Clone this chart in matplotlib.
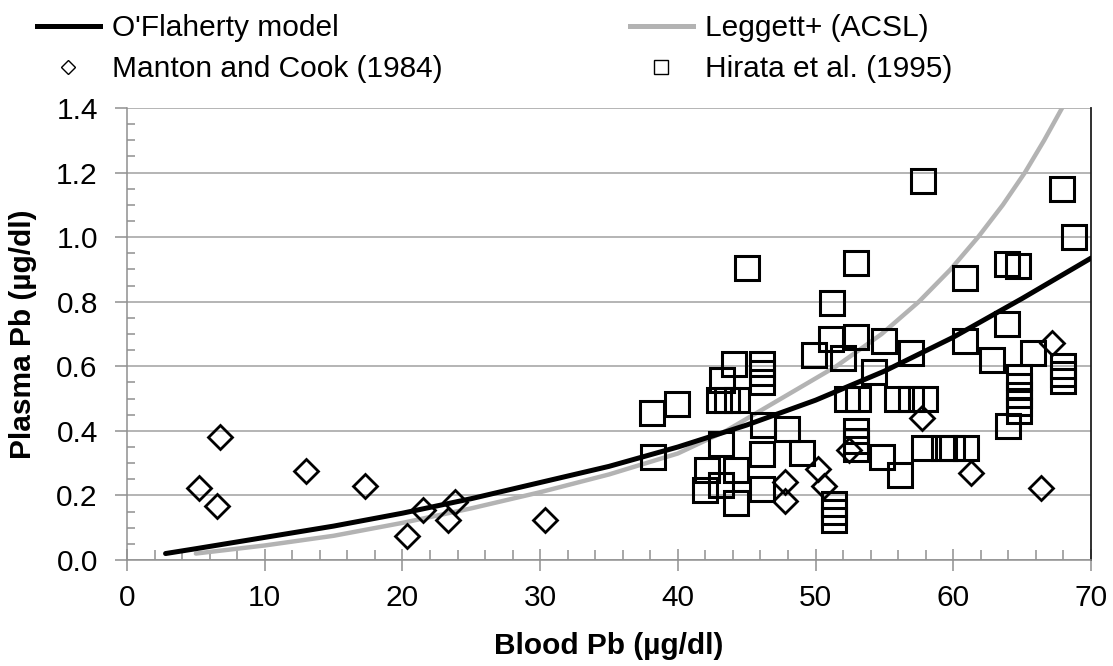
import numpy as np
import matplotlib
matplotlib.use("Agg")
import matplotlib.pyplot as plt
from matplotlib.lines import Line2D
from matplotlib.ticker import MultipleLocator, FormatStrFormatter

plt.rcParams['font.family'] = ['Liberation Sans', 'DejaVu Sans']

# O'Flaherty model curve
ofl_x = [2.8, 5, 10, 15, 20, 25, 30, 35, 40, 45, 50, 55, 60, 65, 70]
ofl_y = [0.02, 0.035, 0.07, 0.105, 0.145, 0.19, 0.24, 0.29, 0.35, 0.418, 0.495, 0.585, 0.69, 0.81, 0.935]

# Leggett+ (ACSL) curve
leg_x = [5, 10, 15, 20, 25, 30, 35, 40, 43.5, 47.5, 51.5, 54.8, 57.5, 59.8, 61.8, 63.6, 65.2, 66.6, 67.9]
leg_y = [0.02, 0.045, 0.075, 0.115, 0.16, 0.21, 0.265, 0.33, 0.4, 0.5, 0.6, 0.7, 0.8, 0.9, 1.0, 1.1, 1.2, 1.3, 1.4]

# Manton and Cook (1984)
mc_x = [5.2, 6.75, 6.5, 13.0, 17.3, 20.3, 21.5, 23.3, 23.8, 30.35,
        47.75, 47.75, 50.2, 50.6, 52.4, 57.7, 61.3, 66.4, 67.2]
mc_y = [0.222, 0.382, 0.167, 0.277, 0.229, 0.074, 0.155, 0.124, 0.18, 0.124,
        0.241, 0.182, 0.282, 0.229, 0.34, 0.44, 0.27, 0.222, 0.673]

# Hirata et al. (1995)
hi_x = [57.8, 67.9, 68.8, 45.0, 52.9, 60.85, 63.9, 64.7,
        51.2, 63.9, 60.85,
        51.1, 52.9, 55.0, 49.9, 52.0, 56.9, 54.25, 62.8, 65.8,
        68.0, 68.0, 68.0,
        64.75, 64.75, 64.75, 64.75, 64.75, 64.0,
        52.3, 53.1, 55.9, 56.9, 57.95,
        38.1, 39.95,
        44.1, 46.1, 43.2, 46.1, 46.1, 43.0, 43.6, 44.3,
        38.2, 43.1, 46.2, 47.9, 46.1, 42.1, 44.2, 42.0, 43.1, 44.2, 46.1,
        49.0, 54.85, 56.1, 57.9, 59.3, 59.9, 60.9,
        51.35, 51.35, 51.35, 52.9, 52.9, 52.9]
hi_y = [1.175, 1.15, 1.0, 0.905, 0.92, 0.872, 0.917, 0.91,
        0.795, 0.732, 0.677,
        0.683, 0.692, 0.678, 0.636, 0.627, 0.642, 0.583, 0.62, 0.64,
        0.602, 0.577, 0.555,
        0.567, 0.54, 0.51, 0.485, 0.462, 0.415,
        0.5, 0.5, 0.5, 0.5, 0.5,
        0.456, 0.482,
        0.607, 0.607, 0.557, 0.552, 0.58, 0.497, 0.497, 0.497,
        0.318, 0.359, 0.417, 0.405, 0.328, 0.279, 0.279, 0.217, 0.232, 0.176, 0.22,
        0.33, 0.32, 0.263, 0.346, 0.346, 0.346, 0.346,
        0.175, 0.148, 0.125, 0.40, 0.37, 0.345]

fig = plt.figure(figsize=(11.13, 6.66), dpi=100)
ax = fig.add_axes([127 / 1113, 1 - 560 / 666, (1091 - 127) / 1113, (560 - 108) / 666])

ax.set_xlim(0, 70)
ax.set_ylim(0, 1.4)
ax.yaxis.grid(True, color='#a0a0a0', lw=1.1)
ax.set_axisbelow(True)

ax.plot(leg_x, leg_y, color='#b3b3b3', lw=3.2, solid_capstyle='round', zorder=3)
ax.plot(ofl_x, ofl_y, color='black', lw=3.6, solid_capstyle='round', zorder=4)
ax.plot(mc_x, mc_y, ls='none', marker='D', ms=12.5, mfc='none', mec='black', mew=2.0, zorder=5)
ax.plot(hi_x, hi_y, ls='none', marker='s', ms=17, mfc='none', mec='black', mew=2.2, zorder=5)

ax.xaxis.set_major_locator(MultipleLocator(10))
ax.xaxis.set_minor_locator(MultipleLocator(2))
ax.yaxis.set_major_locator(MultipleLocator(0.2))
ax.yaxis.set_minor_locator(MultipleLocator(0.05))
ax.yaxis.set_major_formatter(FormatStrFormatter('%.1f'))

ax.tick_params(axis='x', which='major', direction='inout', length=16, width=1.1, color='#909090',
               labelsize=21.5, pad=9)
ax.tick_params(axis='x', which='minor', direction='in', length=7, width=1.1, color='#909090')
ax.tick_params(axis='y', which='major', direction='out', length=9, width=1.1, color='#909090',
               labelsize=21.5, pad=12)
ax.tick_params(axis='y', which='minor', direction='in', length=6, width=1.1, color='#909090')

ax.spines['top'].set_visible(False)
ax.spines['left'].set_color('#909090')
ax.spines['bottom'].set_color('#909090')
ax.spines['left'].set_linewidth(1.1)
ax.spines['bottom'].set_linewidth(1.1)
ax.spines['right'].set_color('#202020')
ax.spines['right'].set_linewidth(1.3)

ax.set_xlabel('Blood Pb (µg/dl)', fontsize=21.5, fontweight='bold', labelpad=15)
ax.set_ylabel('Plasma Pb (µg/dl)', fontsize=21.5, fontweight='bold', labelpad=14)

h_ofl = Line2D([], [], color='black', lw=3.6)
h_leg = Line2D([], [], color='#b3b3b3', lw=3.6)
h_mc = Line2D([], [], ls='none', marker='D', ms=7.5, mfc='none', mec='black', mew=1.0)
h_hi = Line2D([], [], ls='none', marker='s', ms=10.5, mfc='none', mec='black', mew=1.0)

lkw = dict(loc='upper left', frameon=False, fontsize=21.5, borderpad=0, borderaxespad=0,
           handlelength=2.1, handletextpad=0.4, labelspacing=0.45)
fig.legend([h_ofl, h_mc], ["O'Flaherty model", 'Manton and Cook (1984)'],
           bbox_to_anchor=(37 / 1113, 1 - 14 / 666), **lkw)
fig.legend([h_leg, h_hi], ['Leggett+ (ACSL)', 'Hirata et al. (1995)'],
           bbox_to_anchor=(630 / 1113, 1 - 14 / 666), **lkw)

fig.savefig('out.png', dpi=100)
